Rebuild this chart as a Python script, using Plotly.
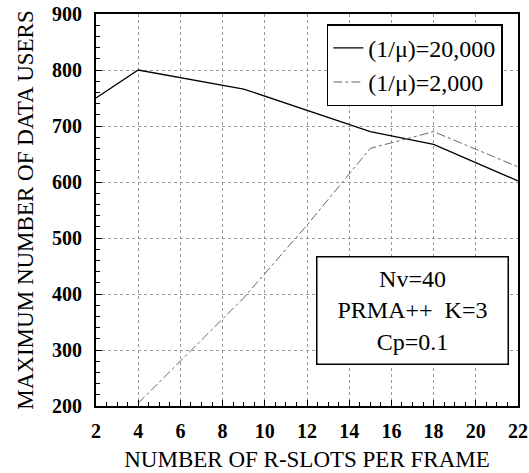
import plotly.graph_objects as go

# Data
x_long = [2, 4, 9, 12, 15, 18, 22]
y_long = [750, 800, 766, 728, 690, 667, 602]          # (1/mu) = 20,000
x_short = [4, 6, 9, 12, 15, 18, 22]
y_short = [205, 280, 393, 523, 660, 690, 627]         # (1/mu) = 2,000

names = ["(1/\u03bc)=20,000", "(1/\u03bc)=2,000"]
x_ticks = [2, 4, 6, 8, 10, 12, 14, 16, 18, 20, 22]
y_ticks = [200, 300, 400, 500, 600, 700, 800, 900]

SERIF = "Liberation Serif"

fig = go.Figure()
fig.add_trace(go.Scatter(x=x_long, y=y_long, mode="lines", name=names[0],
                         line=dict(color="black", width=1.3)))
fig.add_trace(go.Scatter(x=x_short, y=y_short, mode="lines", name=names[1],
                         line=dict(color="#666666", width=1, dash="dashdot")))

axis_common = dict(
    showline=True, mirror=True, linecolor="black", linewidth=2,
    ticks="inside", ticklen=6, tickcolor="black", tickwidth=1,
    showgrid=True, gridcolor="#999999", griddash="dot", gridwidth=1,
    zeroline=False, automargin=False,
    tickfont=dict(family=SERIF, size=20, color="black", weight="bold"),
    title_font=dict(family=SERIF, size=23, color="black"),
)

fig.update_xaxes(range=[2, 22], tickvals=x_ticks,
                 title_text="NUMBER OF R-SLOTS PER FRAME",
                 minor=dict(ticks="inside", ticklen=4, tickcolor="black", dtick=0.5, showgrid=False),
                 ticklabelstandoff=6, title_standoff=10, **axis_common)
fig.update_yaxes(range=[200, 900], tickvals=y_ticks,
                 title_text="MAXIMUM NUMBER OF DATA USERS",
                 minor=dict(ticks="inside", ticklen=4, tickcolor="black", dtick=20, showgrid=False),
                 ticklabelstandoff=8, title_standoff=12, **axis_common)

fig.update_layout(
    width=529, height=473,
    margin=dict(l=96, r=11, t=14, b=67, autoexpand=False),
    paper_bgcolor="white", plot_bgcolor="white",
    font=dict(family=SERIF, color="black"),
    showlegend=True,
    legend=dict(x=0.964, y=0.974, xanchor="right", yanchor="top",
                bordercolor="black", borderwidth=1.5, bgcolor="white",
                font=dict(family=SERIF, size=24, color="black"),
                itemwidth=30, tracegroupgap=0),
    annotations=[dict(
        x=0.749, y=0.244, xref="paper", yref="paper",
        xanchor="center", yanchor="middle",
        text="Nv=40<br>PRMA++  K=3<br>Cp=0.1",
        showarrow=False, align="center",
        width=184, height=100,
        font=dict(family=SERIF, size=24, color="black"),
        bordercolor="black", borderwidth=1.5, bgcolor="white", borderpad=3,
    )],
)

fig.write_html("out.html")
